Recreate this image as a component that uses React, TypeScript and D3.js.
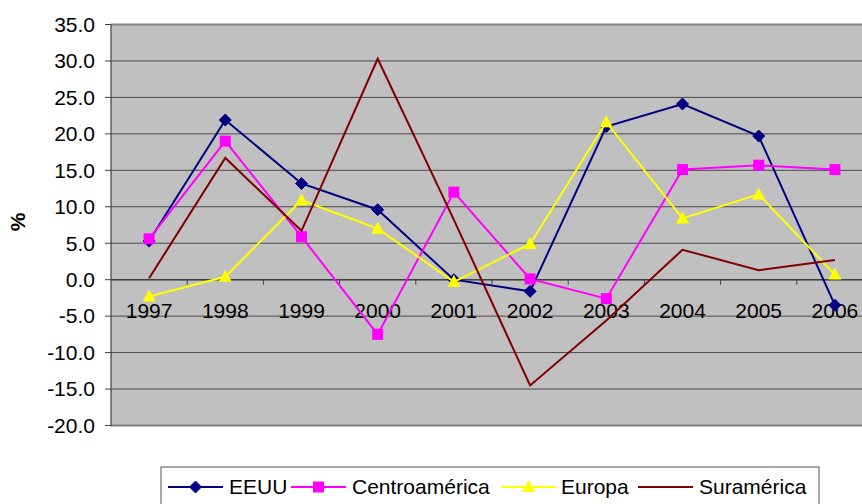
import React from "react";
import * as d3 from "d3";

const years = ["1997", "1998", "1999", "2000", "2001", "2002", "2003", "2004", "2005", "2006"];
const eeuu = [5.3, 21.9, 13.2, 9.6, 0.0, -1.6, 21.0, 24.1, 19.7, -3.5];
const centroamerica = [5.6, 19.0, 5.9, -7.5, 12.0, 0.1, -2.6, 15.1, 15.7, 15.1];
const europa = [-2.3, 0.4, 10.9, 7.0, -0.3, 4.9, 21.6, 8.4, 11.7, 0.7];
const suramerica = [0.2, 16.7, 6.7, 30.3, 8.2, -14.5, -5.6, 4.1, 1.3, 2.7];
const yTicks = [35, 30, 25, 20, 15, 10, 5, 0, -5, -10, -15, -20];

const series = [
  { name: "EEUU", values: eeuu, color: "#000080", marker: "diamond" },
  { name: "Centroamérica", values: centroamerica, color: "#FF00FF", marker: "square" },
  { name: "Europa", values: europa, color: "#FFFF00", marker: "triangle" },
  { name: "Suramérica", values: suramerica, color: "#800000", marker: "none" },
];

const FONT = "'Liberation Sans', Arial, sans-serif";

function Marker({ type, x, y, color }: { type: string; x: number; y: number; color: string }) {
  if (type === "diamond") {
    const s = 6;
    return <path d={`M${x},${y - s}L${x + s},${y}L${x},${y + s}L${x - s},${y}Z`} fill={color} stroke={color} strokeWidth={1} />;
  }
  if (type === "square") {
    const s = 5.5;
    return <rect x={x - s} y={y - s} width={2 * s} height={2 * s} fill={color} />;
  }
  if (type === "triangle") {
    return <path d={`M${x},${y - 7}L${x + 6.5},${y + 5}L${x - 6.5},${y + 5}Z`} fill={color} />;
  }
  return null;
}

export default function App() {
  const W = 862, H = 504;
  const left = 111, right = 873, top = 24.5, bottom = 425.5;
  const x = d3.scaleBand<string>().domain(years).range([left, right]);
  const y = d3.scaleLinear().domain([-20, 35]).range([bottom, top]);
  const cx = (yr: string) => (x(yr) as number) + x.bandwidth() / 2;
  const line = d3.line<number>().x((_, i) => cx(years[i])).y((v) => y(v));
  const y0 = y(0);

  const legendItems = [
    { lx1: 168, lx2: 223, tx: 229 },
    { lx1: 291, lx2: 346, tx: 352 },
    { lx1: 501, lx2: 556, tx: 561 },
    { lx1: 638, lx2: 693, tx: 699 },
  ];
  const ly = 487;

  return (
    <svg width={W} height={H} style={{ position: "absolute", left: 0, top: 0 }} fontFamily={FONT}>
      <rect x={0} y={0} width={W} height={H} fill="#fff" />
      <rect x={left} y={top} width={right - left} height={bottom - top} fill="#C0C0C0" />
      {yTicks.map((t) => (
        <line key={t} x1={left} x2={right} y1={y(t)} y2={y(t)} stroke="#4a4a4a" strokeWidth={1} />
      ))}
      <line x1={left} x2={right} y1={top} y2={top} stroke="#808080" strokeWidth={2} />
      <line x1={left} x2={right} y1={bottom} y2={bottom} stroke="#808080" strokeWidth={2} />
      {/* y axis */}
      <line x1={left} x2={left} y1={top} y2={bottom} stroke="#404040" strokeWidth={1.2} />
      {yTicks.map((t) => (
        <g key={"yt" + t}>
          <line x1={left - 6} x2={left} y1={y(t)} y2={y(t)} stroke="#404040" strokeWidth={1} />
          <text x={95} y={y(t)} dy="0.35em" textAnchor="end" fontSize={21} fill="#000">
            {t.toFixed(1)}
          </text>
        </g>
      ))}
      {/* x axis at 0 */}
      <line x1={left} x2={right} y1={y0} y2={y0} stroke="#404040" strokeWidth={1.5} />
      {years.map((yr, i) => (
        <g key={yr}>
          {i > 0 && <line x1={x(yr)} x2={x(yr)} y1={y0} y2={y0 + 5} stroke="#404040" strokeWidth={1} />}
        </g>
      ))}
      {years.map((yr) => (
        <text key={"xl" + yr} x={cx(yr)} y={317.5} textAnchor="middle" fontSize={21} fill="#000">
          {yr}
        </text>
      ))}
      {/* series */}
      {series.map((s) => (
        <g key={s.name}>
          <path d={line(s.values) || ""} fill="none" stroke={s.color} strokeWidth={2} />
          {s.values.map((v, i) => (
            <Marker key={i} type={s.marker} x={cx(years[i])} y={y(v)} color={s.color} />
          ))}
        </g>
      ))}
      {/* y title */}
      <text transform={`translate(25,${222}) rotate(-90)`} textAnchor="middle" fontSize={21} fontWeight="bold" fill="#000">
        %
      </text>
      {/* legend */}
      <rect x={161} y={467} width={658} height={40} fill="#fff" stroke="#555" strokeWidth={1} />
      {series.map((s, i) => {
        const it = legendItems[i];
        return (
          <g key={"lg" + s.name}>
            <line x1={it.lx1} x2={it.lx2} y1={ly} y2={ly} stroke={s.color} strokeWidth={2} />
            <Marker type={s.marker} x={(it.lx1 + it.lx2) / 2} y={ly} color={s.color} />
            <text x={it.tx} y={ly} dy="0.35em" fontSize={21} fill="#000">
              {s.name}
            </text>
          </g>
        );
      })}
    </svg>
  );
}
